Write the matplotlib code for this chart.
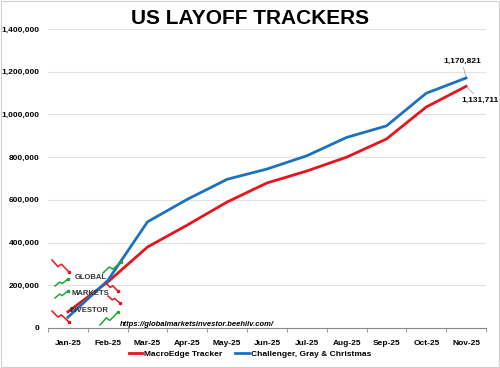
import matplotlib.pyplot as plt
from matplotlib.lines import Line2D
from matplotlib.ticker import FuncFormatter

plt.rcParams['font.family'] = ['Liberation Sans', 'DejaVu Sans']

# datos
meses = ['Jan-25', 'Feb-25', 'Mar-25', 'Apr-25', 'May-25', 'Jun-25',
         'Jul-25', 'Aug-25', 'Sep-25', 'Oct-25', 'Nov-25']
macroedge = [75000, 215000, 379000, 482000, 590000, 679000,
             735000, 800000, 885000, 1035000, 1131711]
challenger = [49795, 221812, 497052, 602493, 696309, 744308,
              806383, 892362, 946426, 1099500, 1170821]

rojo = '#E8141B'
azul = '#1A72C0'

fig = plt.figure(figsize=(5, 3.68), dpi=100)
ax = fig.add_axes([0.096, 0.109, 0.876, 0.812])

x = range(len(meses))
ax.plot(x, macroedge, color=rojo, lw=2.0, label='MacroEdge Tracker', zorder=3)
ax.plot(x, challenger, color=azul, lw=2.0, label='Challenger, Gray & Christmas', zorder=3)

ax.set_ylim(0, 1400000)
ax.set_xlim(-0.5, len(meses) - 0.5)
ax.set_yticks(range(0, 1400001, 200000))
ax.yaxis.set_major_formatter(FuncFormatter(lambda v, p: f'{int(v):,}'))
ax.set_xticks(list(x))
ax.set_xticklabels(meses)
ax.set_xticks([i - 0.5 for i in range(len(meses) + 1)], minor=True)
ax.tick_params(axis='x', which='major', length=0, pad=9, labelsize=6)
ax.tick_params(axis='x', which='minor', length=3, color='#888888', direction='out')
ax.tick_params(axis='y', length=0, pad=6, labelsize=6)
for t in ax.get_xticklabels() + ax.get_yticklabels():
    t.set_fontweight('bold')
ax.grid(axis='y', color='#E3E3E3', lw=0.8)
ax.set_axisbelow(True)
for s in ['top', 'right', 'left']:
    ax.spines[s].set_visible(False)
ax.spines['bottom'].set_color('#888888')

# etiquetas finales
ax.annotate(f'{challenger[-1]:,}', xy=(len(meses) - 1, challenger[-1]),
            xytext=(-3, 11), textcoords='offset points', ha='center',
            fontsize=6, fontweight='bold',
            arrowprops=dict(arrowstyle='-', color='#AAAAAA', lw=0.6, shrinkA=0, shrinkB=1))
ax.annotate(f'{macroedge[-1]:,}', xy=(len(meses) - 1, macroedge[-1]),
            xytext=(10, -11), textcoords='offset points', ha='center',
            fontsize=6, fontweight='bold',
            arrowprops=dict(arrowstyle='-', color='#AAAAAA', lw=0.6, shrinkA=0, shrinkB=1))

fig.text(0.5, 0.935, 'US LAYOFF TRACKERS', ha='center', fontsize=15, fontweight='bold')

fig.legend(loc='center', bbox_to_anchor=(0.5, 0.038), ncol=2, frameon=False,
           handlelength=1.6, columnspacing=1.5, handletextpad=0.3,
           prop={'weight': 'bold', 'size': 6})

# logo marca de agua
fig.text(0.24, 0.115, 'https://globalmarketsinvestor.beehiiv.com/', fontsize=5.5,
         style='italic', fontweight='bold')
fig.text(0.15, 0.243, 'GLOBAL', fontsize=5.5, fontweight='bold', color='#333333')
fig.text(0.142, 0.198, 'MARKETS', fontsize=5.5, fontweight='bold', color='#333333')
fig.text(0.14, 0.153, 'INVESTOR', fontsize=5.5, fontweight='bold', color='#333333')


def zigzag(x0, y0, dx, dy, color):
    px = [x0, x0 + dx * 0.35, x0 + dx * 0.55, x0 + dx]
    py = [y0, y0 + dy * 0.55, y0 + dy * 0.35, y0 + dy]
    xs = [p / 500 for p in px]
    ys = [1 - p / 368 for p in py]
    fig.add_artist(Line2D(xs, ys, color=color, lw=1.1))
    fig.add_artist(Line2D([xs[-1]], [ys[-1]], color=color, marker='s', ms=1.4))


zigzag(52, 260, 17, 12, '#E8141B')
zigzag(52, 311, 17, 11, '#E8141B')
zigzag(106, 283, 12, 8, '#E8141B')
zigzag(108, 296, 12, 7, '#E8141B')
zigzag(55, 286, 13, -7, '#1EA838')
zigzag(55, 298, 13, -7, '#1EA838')
zigzag(103, 273, 18, -11, '#1EA838')
zigzag(100, 325, 18, -13, '#1EA838')

fig.add_artist(plt.Rectangle((0.002, 0.002), 0.996, 0.996, fill=False,
                             edgecolor='#D0D0D0', lw=0.8, transform=fig.transFigure))

fig.savefig('out.png', dpi=100)
